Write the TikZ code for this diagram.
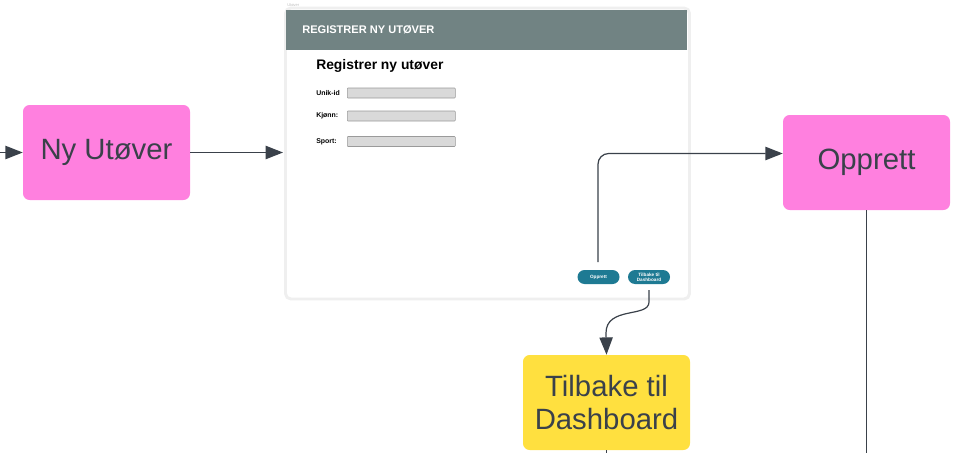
\documentclass[tikz,border=0pt]{standalone}
\usepackage{fontspec}
\setmainfont{Liberation Sans}
\usetikzlibrary{arrows.meta}
\definecolor{pinkbox}{HTML}{FF80DF}
\definecolor{yellowbox}{HTML}{FFE03F}
\definecolor{ink}{HTML}{3A414A}
\definecolor{headbar}{HTML}{718383}
\definecolor{btn}{HTML}{1E7A93}
\definecolor{fieldfill}{HTML}{D9D9D9}
\definecolor{fieldline}{HTML}{9A9A9A}
\definecolor{framecol}{HTML}{EFEFEF}
\tikzset{
  flowbox/.style={rounded corners=5pt, minimum width=125.25pt, minimum height=71.25pt, inner sep=0pt, text=ink, font=\fontsize{22pt}{26pt}\selectfont, align=center},
  conn/.style={draw=ink, line width=0.9pt, -{Triangle[length=13pt,width=10pt]}},
  plain/.style={draw=ink, line width=0.9pt},
  field/.style={draw=fieldline, fill=fieldfill, line width=0.4pt, rounded corners=0.6pt, minimum width=81pt, minimum height=7.5pt, inner sep=0pt, anchor=west},
  flabel/.style={font=\bfseries\fontsize{5.2pt}{6pt}\selectfont, anchor=west, inner sep=0pt},
  pill/.style={fill=btn, rounded corners=5.25pt, minimum width=31.5pt, minimum height=10.5pt, inner sep=0pt, text=white, font=\bfseries\fontsize{3.5pt}{3.9pt}\selectfont, align=center}
}
\begin{document}
\begin{tikzpicture}[x=0.75pt,y=-0.75pt]
\useasboundingbox (0,0) rectangle (962,453);
% mockup frame
\node[draw=framecol, line width=2.2pt, fill=white, rounded corners=4pt, minimum width=303pt, minimum height=218.25pt, inner sep=0pt] (frame) at (487.5,153.5) {};
\fill[headbar] (285.5,10) rectangle (687,50);
\node[anchor=west, inner sep=0pt, text=gray!50, font=\fontsize{3pt}{3.5pt}\selectfont] (tiny) at (287,5) {Utøver};
\node[anchor=west, inner sep=0pt, text=white, font=\bfseries\fontsize{8.3pt}{10pt}\selectfont] (hdr) at (302,30) {REGISTRER NY UTØVER};
\node[anchor=west, inner sep=0pt, font=\bfseries\fontsize{10.4pt}{12pt}\selectfont] (title) at (316,66) {Registrer ny utøver};
\node[flabel] (l1) at (316,93) {Unik-id};
\node[flabel] (l2) at (316,116) {Kjønn:};
\node[flabel] (l3) at (316,142) {Sport:};
\node[field] (f1) at (347,93) {};
\node[field] (f2) at (347,116) {};
\node[field] (f3) at (347,141.5) {};
\node[pill] (bopp) at (598.5,277) {Opprett};
\node[pill] (btil) at (649,277) {Tilbake til\\Dashboard};
% flow boxes
\node[flowbox, fill=pinkbox] (ny) at (106.5,152.5) {Ny Utøver};
\node[flowbox, fill=pinkbox] (opp) at (866.5,162.5) {Opprett};
\node[flowbox, fill=yellowbox, font=\fontsize{22pt}{24.5pt}\selectfont] (til) at (606.5,402.5) {Tilbake til\\Dashboard};
\coordinate (start) at (0,152.5);
\coordinate (oppend) at (866.5,453);
\coordinate (tilend) at (606.5,453);
\coordinate (mockin) at (283,152.5);
% connectors
\draw[conn] (start) -- (ny.west);
\draw[conn] (ny.east) -- (mockin);
\draw[conn, rounded corners=8pt] (598,262) -- (598,153.5) -- (opp.west |- 0,153.5);
\draw[plain] (opp.south) -- (oppend);
\draw[conn] (649,290) -- (649,302) .. controls (649,318) and (606,306) .. (606,333) -- (til.north);
\draw[plain] (til.south) -- (tilend);
\end{tikzpicture}
\end{document}
